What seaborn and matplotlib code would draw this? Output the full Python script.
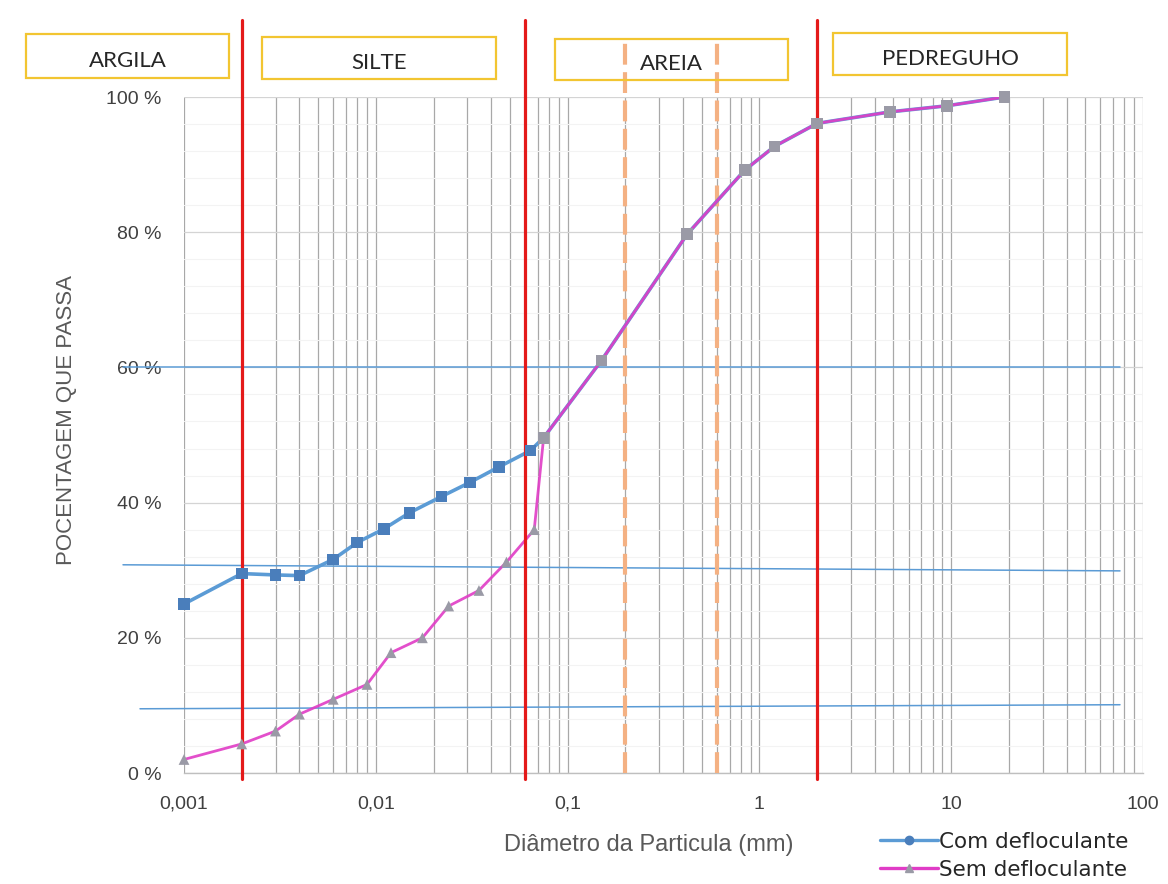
import numpy as np
import pandas as pd
import matplotlib
matplotlib.use("Agg")
import matplotlib.pyplot as plt
import matplotlib.transforms as mtransforms
from matplotlib.patches import Rectangle
from matplotlib.lines import Line2D
from matplotlib.ticker import FixedLocator, LogLocator, NullFormatter, MultipleLocator
import seaborn as sns

# ---- data -------------------------------------------------------------
com_diam = [0.001, 0.002, 0.003, 0.004, 0.006, 0.008, 0.011, 0.015, 0.022,
            0.031, 0.044, 0.064, 0.075, 0.15, 0.42, 0.84, 1.2, 2.0, 4.8, 9.5, 19.0]
com_pass = [25.0, 29.5, 29.3, 29.2, 31.6, 34.1, 36.1, 38.5, 40.9,
            43.0, 45.3, 47.7, 49.6, 61.0, 79.7, 89.2, 92.7, 96.1, 97.8, 98.7, 100.0]

sem_diam = [0.001, 0.002, 0.003, 0.004, 0.006, 0.009, 0.012, 0.0175, 0.024,
            0.0345, 0.048, 0.067, 0.075, 0.15, 0.42, 0.84, 1.2, 2.0, 4.8, 9.5, 19.0]
sem_pass = [2.0, 4.3, 6.2, 8.7, 10.9, 13.1, 17.8, 20.0, 24.7,
            27.0, 31.2, 36.0, 49.6, 61.0, 79.7, 89.2, 92.7, 96.1, 97.8, 98.7, 100.0]

series_names = ["Com defloculante", "Sem defloculante"]

# fraction limits (mm): clay/silt, silt/sand, sand/gravel
fraction_limits = [0.002, 0.06, 2.0]
# sand sub-divisions (fine / medium / coarse)
sand_limits = [0.2, 0.6]
fraction_names = ["ARGILA", "SILTE", "AREIA", "PEDREGUHO"]

# reference levels (D10, D30, D60) at left and right ends
ref_left = [9.5, 30.8, 60.0]
ref_right = [10.1, 29.9, 60.0]

xtick_values = [0.001, 0.01, 0.1, 1, 10, 100]
xtick_labels = ["0,001", "0,01", "0,1", "1", "10", "100"]
ytick_values = [0, 20, 40, 60, 80, 100]
ytick_labels = ["0 %", "20 %", "40 %", "60 %", "80 %", "100 %"]

# ---- styling ----------------------------------------------------------
sns.set_theme(style="white")
plt.rcParams["font.family"] = ["Liberation Sans", "DejaVu Sans"]

W, H = 1168, 884
fig = plt.figure(figsize=(W / 100, H / 100), dpi=100)
fig.patch.set_facecolor("white")

def fx(px):
    return px / W

def fy(py):
    return 1 - py / H

ax_l, ax_r, ax_t, ax_b = 184, 1143, 97, 773
ax = fig.add_axes([fx(ax_l), fy(ax_b), fx(ax_r - ax_l), (ax_b - ax_t) / H])
ax.set_facecolor("white")

blue_line = "#5b9bd5"
blue_mark = "#4a7ebb"
pink_line = "#e03cc6"
gray_mark = "#9a9aa6"

com_df = pd.DataFrame({"d": com_diam, "p": com_pass})
sem_df = pd.DataFrame({"d": sem_diam, "p": sem_pass})

ax.set_xscale("log")
ax.set_xlim(0.001, 100)
ax.set_ylim(0, 100)

# grid
ax.xaxis.set_major_locator(FixedLocator(xtick_values))
ax.xaxis.set_minor_locator(LogLocator(base=10, subs=np.arange(2, 10)))
ax.xaxis.set_minor_formatter(NullFormatter())
ax.yaxis.set_major_locator(FixedLocator(ytick_values))
ax.yaxis.set_minor_locator(MultipleLocator(4))
ax.grid(which="major", axis="x", color="#a8a8a8", lw=0.9)
ax.grid(which="minor", axis="x", color="#a8a8a8", lw=0.9)
ax.grid(which="major", axis="y", color="#d4d4d4", lw=0.9)
ax.grid(which="minor", axis="y", color="#f3f3f3", lw=0.8)
ax.set_axisbelow(True)

for s in ["left", "top", "right"]:
    ax.spines[s].set_visible(False)
ax.spines["bottom"].set_color("#bfbfbf")
ax.spines["bottom"].set_linewidth(1.0)

ax.set_xticks(xtick_values)
ax.set_xticklabels(xtick_labels)
ax.set_yticks(ytick_values)
ax.set_yticklabels(ytick_labels)
ax.tick_params(axis="both", which="both", length=0, labelsize=14, colors="#404040")
ax.tick_params(axis="x", pad=16.5)
ax.tick_params(axis="y", pad=16)

# reference level lines (extend a bit to the left of the axes)
blend = mtransforms.blended_transform_factory(ax.transAxes, ax.transData)
ref_x0 = [(140 - ax_l) / (ax_r - ax_l), (123 - ax_l) / (ax_r - ax_l), (123 - ax_l) / (ax_r - ax_l)]
ref_x1 = (1120 - ax_l) / (ax_r - ax_l)
for x0, yl, yr in zip(ref_x0, ref_left, ref_right):
    ax.plot([x0, ref_x1], [yl, yr], transform=blend, color=blue_line,
            lw=1.1, clip_on=False, zorder=2)

# fraction boundaries
vblend = mtransforms.blended_transform_factory(ax.transData, ax.transAxes)
for xv in sand_limits:
    ax.plot([xv, xv], [0, 1.087], transform=vblend, color="#f4b183",
            lw=3.0, dashes=(5, 1.8), clip_on=False, zorder=3)
for xv in fraction_limits:
    ax.plot([xv, xv], [-0.009, 1.114], transform=vblend, color="#e41a1a",
            lw=2.3, clip_on=False, zorder=6)

# curves
sns.lineplot(data=com_df, x="d", y="p", ax=ax, color=blue_line, lw=2.6,
             sort=False, zorder=4, legend=False)
sns.lineplot(data=sem_df, x="d", y="p", ax=ax, color=pink_line, lw=2.0,
             sort=False, zorder=5, alpha=0.9, legend=False)

# markers: points shared by both curves are drawn as gray squares
sem_pairs = set(zip(sem_diam, sem_pass))
com_own = com_df[[(d, p) not in sem_pairs for d, p in zip(com_diam, com_pass)]]
shared = com_df[[(d, p) in sem_pairs for d, p in zip(com_diam, com_pass)]]
com_pairs = set(zip(com_diam, com_pass))
sem_own = sem_df[[(d, p) not in com_pairs for d, p in zip(sem_diam, sem_pass)]]

ax.scatter(com_own["d"], com_own["p"], marker="s", s=70, color=blue_mark,
           edgecolors="none", zorder=7, clip_on=False)
ax.scatter(shared["d"], shared["p"], marker="s", s=70, color=gray_mark,
           edgecolors="none", zorder=7, clip_on=False)
ax.scatter(sem_own["d"], sem_own["p"], marker="^", s=60, color=gray_mark,
           edgecolors="none", zorder=7, clip_on=False)

# axis labels
ax.set_xlabel("Diâmetro da Particula (mm)", fontsize=17, color="#595959")
ax.xaxis.set_label_coords((649 - ax_l) / (ax_r - ax_l), -(845 - ax_b) / (ax_b - ax_t))
ax.xaxis.label.set_va("center")
ax.set_ylabel("POCENTAGEM QUE PASSA", fontsize=16, color="#595959")
ax.yaxis.set_label_coords(-(ax_l - 67) / (ax_r - ax_l), (ax_b - 420) / (ax_b - ax_t))
ax.yaxis.label.set_va("center")

# fraction name boxes above the plot
box_px = [(26, 34, 229, 78), (262, 37, 496, 79), (555, 39, 788, 80), (833, 33, 1067, 75)]
for name, (x0, y0, x1, y1) in zip(fraction_names, box_px):
    fig.patches.append(Rectangle((fx(x0), fy(y1)), fx(x1 - x0), (y1 - y0) / H,
                                 transform=fig.transFigure, fill=False,
                                 edgecolor="#f2c531", lw=1.6, zorder=1))
    fig.text(fx((x0 + x1) / 2), fy((y0 + y1) / 2 + 5), name, ha="center", va="center",
             fontsize=16, color="#262626", family=["Lato", "DejaVu Sans"])

# legend
handles = [
    Line2D([0], [0], color=blue_line, lw=2.4, marker="o", markersize=6,
           markerfacecolor=blue_mark, markeredgecolor=blue_mark),
    Line2D([0], [0], color=pink_line, lw=2.4, marker="^", markersize=6,
           markerfacecolor=gray_mark, markeredgecolor=gray_mark),
]
fig.legend(handles, series_names, loc="upper left",
           bbox_to_anchor=(fx(880), fy(832)), frameon=False,
           prop={"family": ["DejaVu Sans"], "size": 15.5},
           handlelength=2.7, handletextpad=0.05, labelspacing=0.35,
           borderpad=0.0, borderaxespad=0.0, labelcolor="#262626")

fig.savefig("out.png", dpi=100, facecolor="white")
